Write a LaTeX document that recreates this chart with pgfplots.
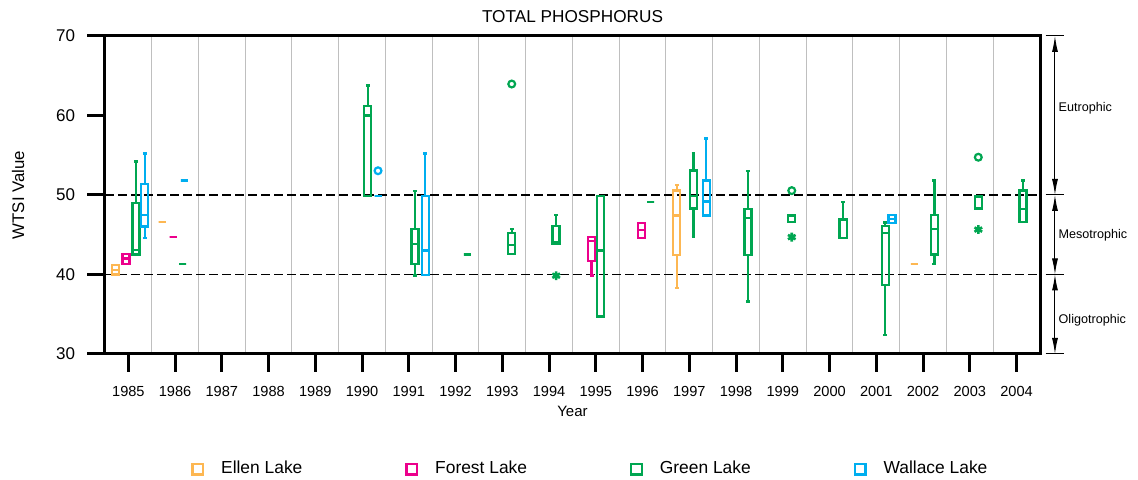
\documentclass[border=0pt]{standalone}
\usepackage{fontspec}
\setmainfont{Liberation Sans}
\usepackage{pgfplots}
\pgfplotsset{compat=1.18}
\usepgfplotslibrary{statistics}
\usetikzlibrary{arrows.meta}

\definecolor{ellen}{RGB}{253,183,82}
\definecolor{forest}{RGB}{236,0,140}
\definecolor{green}{RGB}{0,166,81}
\definecolor{wallace}{RGB}{0,174,239}

% box: colour, position, lower whisker, Q1, median, Q3, upper whisker
\newcommand{\bx}[7]{%
  \addplot[#1, solid, line width=1.2pt, forget plot,
    boxplot prepared={draw position=#2, lower whisker=#3, lower quartile=#4,
      median=#5, upper quartile=#6, upper whisker=#7}] coordinates {};}

\begin{document}
\begin{tikzpicture}
\path[use as bounding box] (-52.5pt,-63pt) rectangle (516.5pt,177pt);
\begin{axis}[
    at={(0pt,0pt)}, anchor=south west,
    scale only axis, width=467.5pt, height=159pt,
    xmin=1984.5, xmax=2004.5, ymin=30, ymax=70,
    xtick={1985,...,2004}, ytick={30,40,...,70},
    minor xtick={1985.5,1986.5,...,2003.5},
    xminorgrids=true, minor tick length=0pt,
    minor grid style={black!25, line width=0.5pt},
    tick pos=left, tick align=outside, major tick length=9pt,
    tick style={black, line width=1.5pt},
    axis line style={line width=1.5pt},
    /pgf/number format/1000 sep={},
    /pgf/number format/assume math mode=true,
    xticklabel style={font=\fontsize{7.3}{8}\selectfont, yshift=-3.5pt},
    yticklabel style={font=\fontsize{8.5}{9}\selectfont, xshift=-2.5pt},
    every axis title shift=0pt,
    title={TOTAL PHOSPHORUS},
    title style={font=\fontsize{8.6}{10}\selectfont, at={(axis description cs:0.5,1.06)}, anchor=center},
    xlabel={Year},
    xlabel style={font=\fontsize{7.5}{9}\selectfont, at={(axis description cs:0.5,-0.18)}, anchor=center},
    ylabel={WTSI Value},
    ylabel style={font=\fontsize{8.4}{10}\selectfont, at={(axis description cs:-0.093,0.5)}, anchor=center},
    boxplot/draw direction=y,
    boxplot/box extend=0.15,
    boxplot/whisker extend=0.08,
    clip=false,
    legend columns=4,
    legend style={at={(axis description cs:0.093,-0.362)}, anchor=west,
      draw=none, fill=none, inner sep=0pt,
      font=\fontsize{8.7}{10}\selectfont,
      /tikz/every odd column/.append style={column sep=7pt},
      /tikz/every even column/.append style={column sep=50pt}},
]
\addlegendimage{only marks, mark=square, mark size=2.7pt, line width=1.2pt, color=ellen}
\addlegendentry{Ellen Lake}
\addlegendimage{only marks, mark=square, mark size=2.7pt, line width=1.2pt, color=forest}
\addlegendentry{Forest Lake}
\addlegendimage{only marks, mark=square, mark size=2.7pt, line width=1.2pt, color=green}
\addlegendentry{Green Lake}
\addlegendimage{only marks, mark=square, mark size=2.7pt, line width=1.2pt, color=wallace}
\addlegendentry{Wallace Lake}

% trophic boundaries
\addplot[black, line width=0.75pt, dash pattern=on 4.5pt off 2pt, forget plot] coordinates {(1984.5,50) (2004.55,50)};
\addplot[black, line width=0.75pt, dash pattern=on 4.5pt off 2pt, forget plot] coordinates {(1984.5,40) (2004.55,40)};

% Ellen Lake
\bx{ellen}{1984.72}{40.0}{40.0}{40.6}{41.2}{41.2}
\bx{ellen}{1985.72}{46.6}{46.6}{46.6}{46.6}{46.6}
\bx{ellen}{1996.73}{38.3}{42.45}{47.4}{50.55}{51.25}
\bx{ellen}{2001.81}{41.3}{41.3}{41.3}{41.3}{41.3}

% Forest Lake
\bx{forest}{1984.95}{41.3}{41.3}{42.0}{42.6}{42.6}
\bx{forest}{1985.96}{44.7}{44.7}{44.7}{44.7}{44.7}
\bx{forest}{1994.91}{39.85}{41.7}{44.25}{44.7}{44.7}
\bx{forest}{1995.97}{44.6}{44.6}{45.6}{46.5}{46.5}

% Green Lake
\bx{green}{1985.16}{42.5}{42.5}{43.1}{49.0}{54.2}
\bx{green}{1986.16}{41.3}{41.3}{41.3}{41.3}{41.3}
\bx{green}{1990.12}{49.9}{49.9}{60.0}{61.2}{63.75}
\bx{green}{1991.13}{39.85}{41.3}{43.8}{45.7}{50.5}
\bx{green}{1992.25}{42.5}{42.5}{42.5}{42.5}{42.5}
\bx{green}{1993.20}{42.6}{42.6}{43.7}{45.2}{45.7}
\bx{green}{1994.15}{43.8}{43.8}{44.1}{46.1}{47.5}
\bx{green}{1995.10}{34.7}{34.7}{43.0}{49.85}{49.85}
\bx{green}{1996.17}{49.1}{49.1}{49.1}{49.1}{49.1}
\bx{green}{1997.09}{44.7}{48.3}{49.9}{53.1}{55.25}
\bx{green}{1998.25}{36.6}{42.45}{47.1}{48.25}{53.05}
\bx{green}{1999.19}{46.6}{46.6}{46.6}{47.4}{47.4}
\bx{green}{2000.29}{44.6}{44.6}{44.6}{46.9}{49.1}
\bx{green}{2001.19}{32.4}{38.7}{45.2}{46.1}{46.55}
\bx{green}{2002.24}{41.3}{42.5}{45.7}{47.5}{51.8}
\bx{green}{2003.18}{48.3}{48.3}{48.3}{49.8}{49.8}
\bx{green}{2004.14}{46.6}{46.6}{48.25}{50.55}{51.8}

% Wallace Lake
\bx{wallace}{1985.35}{44.6}{46.05}{47.5}{51.4}{55.2}
\bx{wallace}{1986.20}{51.8}{51.8}{51.8}{51.8}{51.8}
\bx{wallace}{1990.34}{49.85}{49.85}{49.85}{49.85}{49.85}
\bx{wallace}{1991.35}{39.9}{39.9}{43.0}{49.85}{55.2}
\bx{wallace}{1997.36}{47.4}{47.4}{49.2}{51.8}{57.1}
\bx{wallace}{2001.33}{46.5}{46.5}{47.0}{47.5}{47.5}

% outliers
\addplot[only marks, mark=o, mark size=1.7pt, line width=1.1pt, color=green, forget plot]
  coordinates {(1993.20,63.96) (1999.19,50.55) (2003.18,54.75)};
\addplot[only marks, mark=o, mark size=1.7pt, line width=1.1pt, color=wallace, forget plot]
  coordinates {(1990.34,53.05)};
\addplot[only marks, mark=asterisk, mark size=2.2pt, line width=1.3pt, color=green, forget plot]
  coordinates {(1994.15,39.85) (1999.19,44.7) (2003.18,45.65)};

% trophic state scale on the right
\draw[line width=0.5pt] (axis cs:2004.62,70) -- (axis cs:2005.01,70);
\draw[line width=0.5pt] (axis cs:2004.62,50) -- (axis cs:2005.01,50);
\draw[line width=0.5pt] (axis cs:2004.62,40) -- (axis cs:2005.01,40);
\draw[line width=0.5pt] (axis cs:2004.62,30) -- (axis cs:2005.01,30);
\draw[{Latex[length=8pt,width=3pt]}-{Latex[length=8pt,width=3pt]}, line width=0.5pt]
  (axis cs:2004.82,70) -- (axis cs:2004.82,50);
\draw[{Latex[length=8pt,width=3pt]}-{Latex[length=8pt,width=3pt]}, line width=0.5pt]
  (axis cs:2004.82,50) -- (axis cs:2004.82,40);
\draw[{Latex[length=8pt,width=3pt]}-{Latex[length=8pt,width=3pt]}, line width=0.5pt]
  (axis cs:2004.82,40) -- (axis cs:2004.82,30);
\node[anchor=west, font=\fontsize{6.3}{7}\selectfont, inner sep=0pt] at (axis cs:2004.89,60.9) {Eutrophic};
\node[anchor=west, font=\fontsize{6.3}{7}\selectfont, inner sep=0pt] at (axis cs:2004.89,45.0) {Mesotrophic};
\node[anchor=west, font=\fontsize{6.3}{7}\selectfont, inner sep=0pt] at (axis cs:2004.89,34.3) {Oligotrophic};
\end{axis}
\end{tikzpicture}
\end{document}
